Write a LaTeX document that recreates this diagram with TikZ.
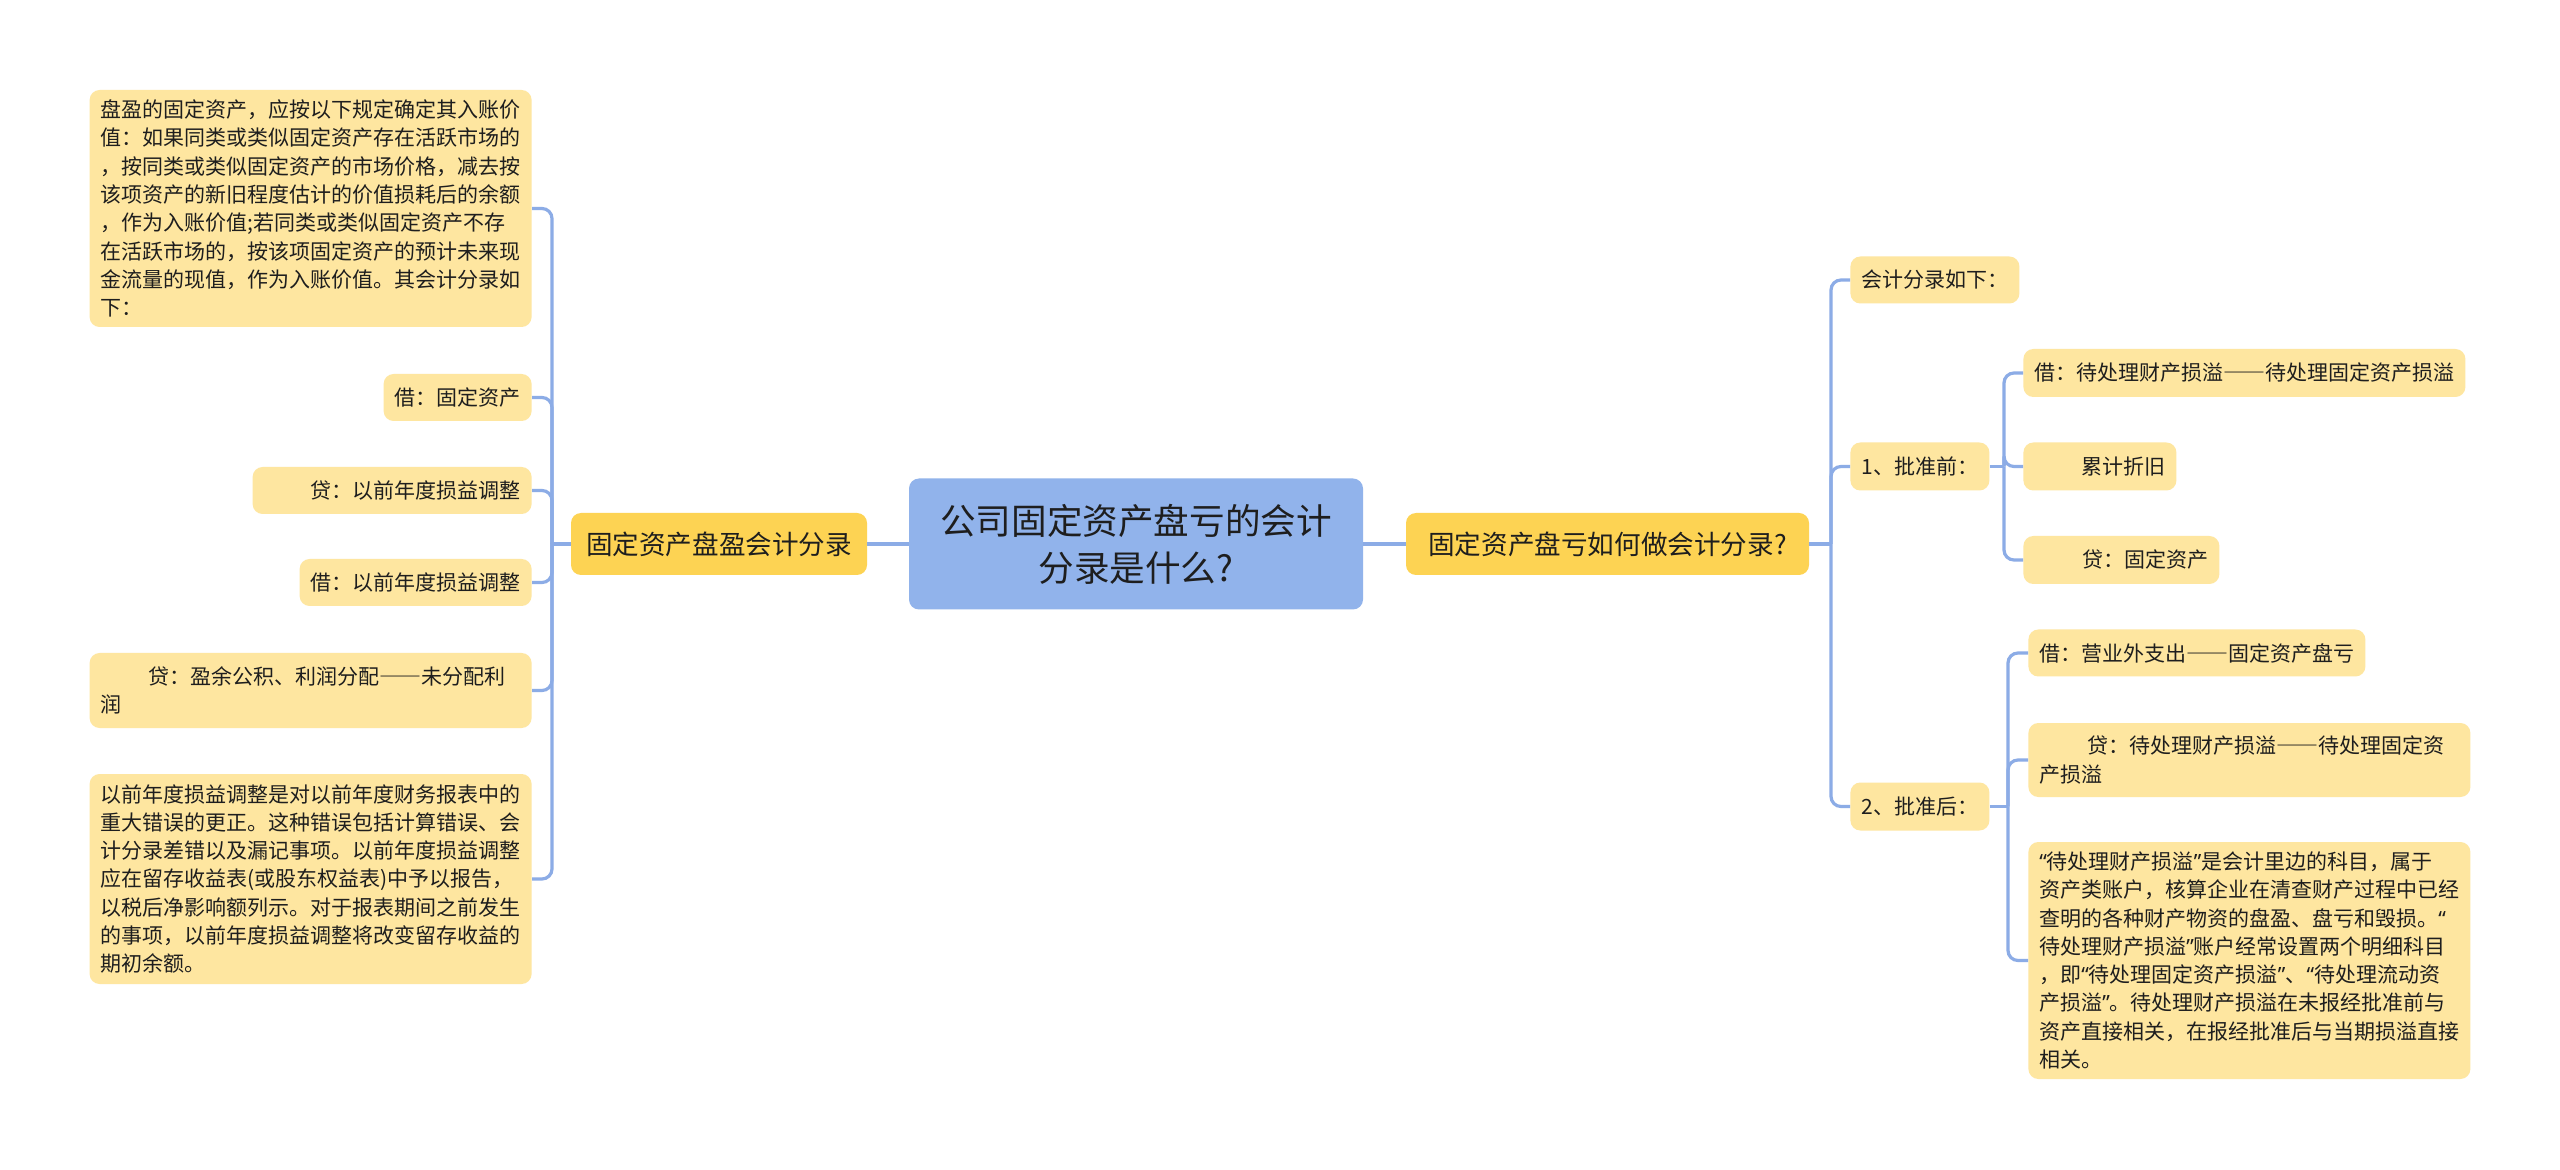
\documentclass[tikz,border=0pt]{standalone}
\usepackage{fontspec}
\setmainfont{Noto Sans CJK SC}
\newfontfamily\latinq{Noto Sans}
\newcommand{\myLQ}{{\latinq “}}
\newcommand{\myRQ}{{\latinq ”}}
\newcommand{\myDD}{{\addfontfeatures{RawFeature=+fwid}——}}
\definecolor{leafc}{RGB}{254,230,160}
\definecolor{lonec}{RGB}{253,211,83}
\definecolor{rootc}{RGB}{145,179,235}
\definecolor{linec}{RGB}{140,172,230}
\definecolor{txtc}{RGB}{30,30,30}
\begin{document}
\begin{tikzpicture}[x=0.5pt,y=-0.5pt,
  leaf/.style={fill=leafc, rounded corners=5pt, inner xsep=5.5pt, inner ysep=0pt,
    font=\fontsize{10.5}{14.15}\selectfont, align=left, text=txtc},
  lone/.style={fill=lonec, rounded corners=5pt, inner xsep=7.5pt, inner ysep=0pt,
    minimum height=31pt, font=\fontsize{13.3}{16}\selectfont, text=txtc},
  rootbox/.style={fill=rootc, rounded corners=5pt, inner xsep=10pt, inner ysep=0pt,
    minimum width=227pt, minimum height=65.5pt, align=center,
    font=\fontsize{17.8}{23.5}\selectfont, text=txtc},
  conn/.style={draw=linec, line width=1.6pt, rounded corners=5pt}]
\useasboundingbox (0,0) rectangle (2560,1170);
\fill[white] (0,0) rectangle (2560,1170);

% root and first level
\node[rootbox] (root) at (1136,544) {公司固定资产盘亏的会计\\分录是什么?};
\node[lone, minimum width=148pt] (l1l) at (719,544) {固定资产盘盈会计分录};
\node[lone, minimum width=201.5pt] (l1r) at (1607.5,544) {固定资产盘亏如何做会计分录?};

% left leaves
\node[leaf, anchor=east, text width=210pt, minimum height=118.5pt] (a1) at (532,208.5)
 {盘盈的固定资产，应按以下规定确定其入账价\\值：如果同类或类似固定资产存在活跃市场的\\，按同类或类似固定资产的市场价格，减去按\\该项资产的新旧程度估计的价值损耗后的余额\\，作为入账价值;若同类或类似固定资产不存\\在活跃市场的，按该项固定资产的预计未来现\\金流量的现值，作为入账价值。其会计分录如\\下：};
\node[leaf, anchor=east, text width=63pt, minimum height=23.5pt] (a2) at (532,397.5) {借：固定资产};
\node[leaf, anchor=east, text width=128.5pt, minimum height=23.5pt] (a3) at (532,490.5) {\hspace*{23.5pt}贷：以前年度损益调整};
\node[leaf, anchor=east, text width=105pt, minimum height=23.5pt] (a4) at (532,582.5) {借：以前年度损益调整};
\node[leaf, anchor=east, text width=210pt, minimum height=37.5pt] (a5) at (532,690.5)
 {\hspace*{24pt}贷：盈余公积、利润分配\myDD 未分配利\\润};
\node[leaf, anchor=east, text width=210pt, minimum height=105pt] (a6) at (532,879)
 {以前年度损益调整是对以前年度财务报表中的\\重大错误的更正。这种错误包括计算错误、会\\计分录差错以及漏记事项。以前年度损益调整\\应在留存收益表(或股东权益表)中予以报告，\\以税后净影响额列示。对于报表期间之前发生\\的事项，以前年度损益调整将改变留存收益的\\期初余额。};

% right second level
\node[leaf, anchor=west, text width=73.5pt, minimum height=23.5pt] (b1) at (1850,280) {会计分录如下：};
\node[leaf, anchor=west, text width=58.5pt, minimum height=24pt] (b2) at (1850,466.5) {1、批准前：};
\node[leaf, anchor=west, text width=58.5pt, minimum height=24pt] (b3) at (1850,806.5) {2、批准后：};

% right third level
\node[leaf, anchor=west, text width=210pt, minimum height=24pt] (c1) at (2023,373) {借：待处理财产损溢\myDD 待处理固定资产损溢};
\node[leaf, anchor=west, text width=65.5pt, minimum height=24pt] (c2) at (2023,466.5) {\hspace*{23.5pt}累计折旧};
\node[leaf, anchor=west, text width=87pt, minimum height=24pt] (c3) at (2023,560) {\hspace*{24pt}贷：固定资产};
\node[leaf, anchor=west, text width=157.5pt, minimum height=23.5pt] (d1) at (2028,653) {借：营业外支出\myDD 固定资产盘亏};
\node[leaf, anchor=west, text width=210pt, minimum height=37pt] (d2) at (2028,760)
 {\hspace*{24pt}贷：待处理财产损溢\myDD 待处理固定资\\产损溢};
\node[leaf, anchor=west, text width=210pt, minimum height=118.5pt] (d3) at (2028,960.5)
 {\myLQ 待处理财产损溢\myRQ 是会计里边的科目，属于\\资产类账户，核算企业在清查财产过程中已经\\查明的各种财产物资的盘盈、盘亏和毁损。\myLQ\\待处理财产损溢\myRQ 账户经常设置两个明细科目\\，即\myLQ 待处理固定资产损溢\myRQ 、\myLQ 待处理流动资\\产损溢\myRQ 。待处理财产损溢在未报经批准前与\\资产直接相关，在报经批准后与当期损溢直接\\相关。};

% junctions
\coordinate (jl) at (552,544);
\coordinate (jr) at (1831,544);
\coordinate (jb1) at (2004,466.5);
\coordinate (jb2) at (2008,806.5);

% connectors
\draw[conn] (root.west) -- (l1l.east);
\draw[conn] (root.east) -- (l1r.west);
\draw[conn] (l1l.west) -- (jl);
\foreach \n in {a1,a2,a3,a4,a5,a6} \draw[conn] (jl) |- (\n.east);
\draw[conn] (l1r.east) -- (jr);
\foreach \n in {b1,b2,b3} \draw[conn] (jr) |- (\n.west);
\draw[conn] (b2.east) -- (jb1);
\foreach \n in {c1,c2,c3} \draw[conn] (jb1) |- (\n.west);
\draw[conn] (b3.east) -- (jb2);
\foreach \n in {d1,d2,d3} \draw[conn] (jb2) |- (\n.west);
\end{tikzpicture}
\end{document}
